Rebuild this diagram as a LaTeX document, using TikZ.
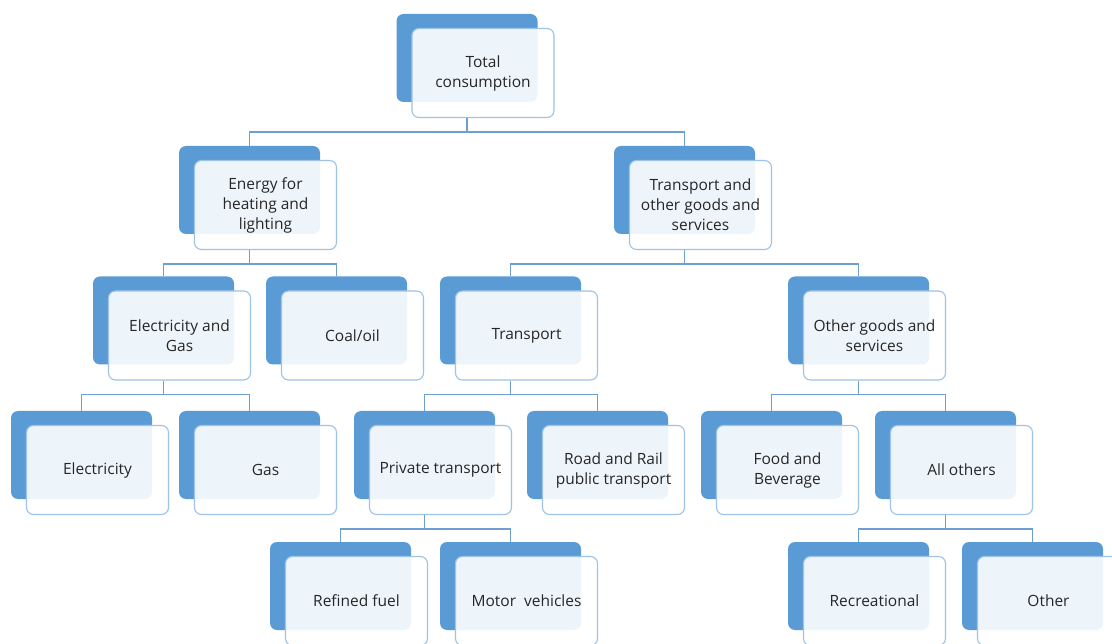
\documentclass[tikz,border=0pt]{standalone}
\usepackage{fontspec}
\setmainfont{Open Sans}
\usetikzlibrary{positioning}
\definecolor{boxblue}{HTML}{5B9BD5}
\definecolor{rimblue}{HTML}{9DC3E6}
\definecolor{linkblue}{HTML}{6F9FD2}
\definecolor{txtgray}{HTML}{262626}
\tikzset{
  backbox/.style={fill=boxblue,draw=none,rounded corners=7pt,minimum width=141pt,minimum height=88pt,inner sep=0pt},
  frontbox/.style={fill=white,fill opacity=0.9,text opacity=1,draw=rimblue,line width=1.1pt,rounded corners=7pt,
    minimum width=142pt,minimum height=89pt,inner sep=0pt,align=center,text=txtgray,
    font=\fontsize{15.5}{20}\selectfont},
  link/.style={draw=linkblue,line width=1.2pt}
}

\begin{document}
\begin{tikzpicture}[x=1pt,y=-1pt]
\clip (0,0) rectangle (1112,644);
\useasboundingbox (0,0) rectangle (1112,644);
% level 0
\node[backbox] (tc-b) at (467,58) {};
\node[frontbox] (tc) at (483,73) {Total\\consumption};
% level 1
\node[backbox] (en-b) at (249.5,190) {};
\node[frontbox] (en) at (265.5,205) {Energy for\\heating and\\lighting};
\node[backbox] (to-b) at (684.5,190) {};
\node[frontbox] (to) at (700.5,205) {Transport and\\other goods and\\services};
% level 2
\node[backbox] (eg-b) at (163.5,320.5) {};
\node[frontbox] (eg) at (179.5,335.5) {Electricity and\\Gas};
\node[backbox] (co-b) at (336.5,320.5) {};
\node[frontbox] (co) at (352.5,335.5) {Coal/oil};
\node[backbox] (tr-b) at (510.5,320.5) {};
\node[frontbox] (tr) at (526.5,335.5) {Transport};
\node[backbox] (og-b) at (858.5,320.5) {};
\node[frontbox] (og) at (874.5,335.5) {Other goods and\\services};
% level 3
\node[backbox] (el-b) at (81.5,455) {};
\node[frontbox] (el) at (97.5,470) {Electricity};
\node[backbox] (ga-b) at (249.5,455) {};
\node[frontbox] (ga) at (265.5,470) {Gas};
\node[backbox] (pt-b) at (424.5,455) {};
\node[frontbox] (pt) at (440.5,470) {Private transport};
\node[backbox] (rr-b) at (597.5,455) {};
\node[frontbox] (rr) at (613.5,470) {Road and Rail\\public transport};
\node[backbox] (fb-b) at (771.5,455) {};
\node[frontbox] (fb) at (787.5,470) {Food and\\Beverage};
\node[backbox] (ao-b) at (945.5,455) {};
\node[frontbox] (ao) at (961.5,470) {All others};
% level 4
\node[backbox] (rf-b) at (340.5,586) {};
\node[frontbox] (rf) at (356.5,601) {Refined fuel};
\node[backbox] (mv-b) at (510.5,586) {};
\node[frontbox] (mv) at (526.5,601) {Motor\ \ vehicles};
\node[backbox] (re-b) at (858.5,586) {};
\node[frontbox] (re) at (874.5,601) {Recreational};
\node[backbox] (ot-b) at (1032.5,586) {};
\node[frontbox] (ot) at (1048.5,601) {Other};
% connectors
\draw[link] (tc-b |- tc.south) -- ++(0,14) -| (en-b.north);
\draw[link] (tc-b |- tc.south) -- ++(0,14) -| (to-b.north);
\draw[link] (en-b |- en.south) -- ++(0,14) -| (eg-b.north);
\draw[link] (en-b |- en.south) -- ++(0,14) -| (co-b.north);
\draw[link] (to-b |- to.south) -- ++(0,14) -| (tr-b.north);
\draw[link] (to-b |- to.south) -- ++(0,14) -| (og-b.north);
\draw[link] (eg-b |- eg.south) -- ++(0,14) -| (el-b.north);
\draw[link] (eg-b |- eg.south) -- ++(0,14) -| (ga-b.north);
\draw[link] (tr-b |- tr.south) -- ++(0,14) -| (pt-b.north);
\draw[link] (tr-b |- tr.south) -- ++(0,14) -| (rr-b.north);
\draw[link] (og-b |- og.south) -- ++(0,14) -| (fb-b.north);
\draw[link] (og-b |- og.south) -- ++(0,14) -| (ao-b.north);
\draw[link] (pt-b |- pt.south) -- ++(0,14) -| (rf-b.north);
\draw[link] (pt-b |- pt.south) -- ++(0,14) -| (mv-b.north);
\draw[link] (ao-b |- ao.south) -- ++(0,14) -| (re-b.north);
\draw[link] (ao-b |- ao.south) -- ++(0,14) -| (ot-b.north);
\end{tikzpicture}
\end{document}
